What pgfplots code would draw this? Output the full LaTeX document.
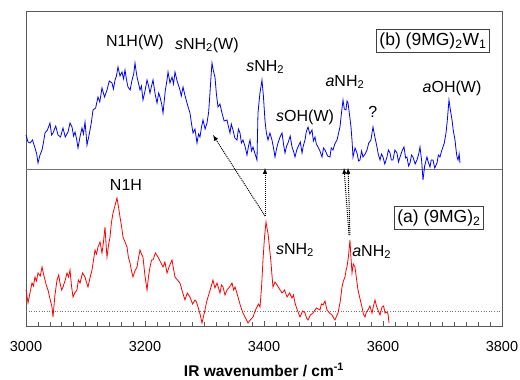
\documentclass[border=0pt]{standalone}
\usepackage{pgfplots}
\pgfplotsset{compat=1.18}
\usepackage{pgfplotstable}
\usepackage{fontspec}
\setmainfont{Liberation Sans}
\pgfplotstableread{
x y
3000.0 191
3003.4 184
3006.7 183
3011 186
3015.1 178
3018 172
3020.2 163
3023.5 171
3026.9 176
3029.5 184
3031.9 193
3036 196
3040.3 203
3043 191
3045.4 193
3050 200
3053.8 191
3058 189
3062.2 198
3066 189
3070.6 194
3074 203
3077.3 199
3080 190
3082.4 194
3085 187
3087.4 178
3091 190
3094.1 198
3096.5 192
3099.2 204
3101 192
3102.5 181
3105 188
3107.6 196
3110 204
3112.6 216
3117 218
3121.0 229
3124 224
3127.7 238
3132 229
3136.1 236
3140 245
3144.5 243
3147 237
3149.6 246
3152 250
3154.6 259
3158 250
3161.3 254
3164 247
3166.4 256
3169 246
3171.4 239
3175 236
3178.2 246
3181 252
3183.2 263
3185 255
3186.6 249
3189 243
3191.6 236
3194 240
3196.6 226
3200 235
3203.4 246
3206 240
3208.4 233
3211 240
3213.5 246
3217 232
3220.2 223
3223 233
3225.2 229
3228 222
3230.3 213
3234 235
3237.0 246
3238.7 254
3242 243
3245.4 249
3248 242
3250.4 254
3254 245
3258.8 236
3261 230
3263.9 239
3267 231
3270.6 223
3273 218
3275.6 213
3278 203
3280.7 193
3284 197
3287.4 183
3290 192
3292.4 189
3295 199
3297.5 206
3301 197
3304.2 203
3307 214
3309.2 233
3311 250
3312.6 263
3315 255
3317.6 249
3320 232
3322.7 219
3326 222
3329.4 213
3333 205
3337.8 206
3340 200
3342.9 193
3345 202
3347.9 196
3351 188
3354.6 186
3357 197
3359.7 193
3362 183
3364.7 186
3368 180
3371.4 171
3374 180
3376.5 186
3379 175
3381.5 179
3385 172
3388.2 166
3389.9 213
3393 232
3396.6 246
3399 230
3401.7 205
3404 193
3406.7 186
3410 193
3413.4 186
3416 178
3418.5 169
3421 177
3423.5 183
3427 189
3430.3 193
3433 181
3435.3 173
3438 180
3440.3 183
3444 190
3447.1 179
3450 174
3452.1 169
3455 176
3457.1 179
3461 184
3463.9 173
3466 180
3468.9 186
3471 194
3474.0 199
3477 192
3480.7 196
3483 185
3485.7 189
3488 182
3490.8 179
3494 175
3497.5 169
3500 178
3502.5 176
3507 170
3510.9 169
3513 178
3516.0 176
3519 182
3522.7 186
3525 192
3527.7 199
3530 212
3532.8 226
3535 217
3537.8 216
3539.5 225
3541.2 223
3544 210
3546.2 199
3548 185
3549.6 169
3553 178
3556.3 173
3559 165
3561.3 166
3564 175
3566.4 169
3570 172
3573.1 176
3576 183
3579.8 186
3581.5 193
3583.2 199
3586 190
3589.9 179
3592 172
3595.0 166
3597.5 172
3600.0 169
3603 162
3606.7 169
3609 176
3611.8 173
3614 166
3616.8 166
3620 176
3623.5 173
3626 164
3628.6 169
3632 175
3635.3 179
3638 168
3640.3 169
3643 160
3645.4 163
3648 171
3650.4 169
3654 162
3657.1 166
3660 172
3662.2 179
3665 165
3667.2 146
3670 160
3673.9 169
3676 164
3679.0 159
3681 166
3684.0 166
3687 158
3690.8 163
3693 171
3695.8 169
3698 174
3700.8 179
3703 183
3705.9 193
3708 205
3710.9 226
3713 217
3716.0 206
3718 196
3721.0 186
3723 175
3724.4 169
3726.1 166
3728 172
3729.4 163
}\bluedata
\pgfplotstableread{
x y
3000.0 36
3001.7 30
3003.4 23
3007 34
3010.1 43
3012.5 40
3015.1 49
3017.5 45
3020.2 53
3024 50
3026.9 59
3029.5 52
3031.9 46
3034.5 40
3037.0 36
3040 28
3043.7 19
3045.4 9
3048.5 30
3052.1 46
3055 51
3057.1 43
3060 36
3062.2 39
3066 46
3068.9 53
3071.5 49
3074.0 56
3076.5 40
3079.0 29
3082 33
3085.7 36
3088 46
3090.8 43
3095 53
3099.2 49
3101.5 44
3104.2 39
3107.5 48
3110.9 56
3113.5 66
3116.0 76
3118.5 72
3121.0 79
3124.5 84
3127.7 73
3130 83
3132.8 99
3134.5 82
3136.1 69
3138.5 80
3141.2 89
3143.5 103
3146.2 113
3149.5 120
3152.9 128
3155.5 119
3158.0 109
3160.5 100
3163.0 89
3166.5 84
3169.8 79
3172 69
3174.8 63
3177 56
3179.8 49
3183 55
3186.6 59
3189 68
3191.6 76
3194 72
3196.6 69
3200 50
3203.4 36
3206 50
3208.4 59
3211 66
3213.5 66
3217.5 73
3221.9 69
3226 64
3230.3 59
3233.5 64
3237.0 53
3241 60
3245.4 66
3248 57
3250.4 49
3254.5 46
3258.8 43
3263 34
3267.2 26
3271 33
3275.6 29
3280 22
3284.0 26
3286.5 24
3289.1 19
3292.5 12
3295.8 3
3298.5 10
3300.8 16
3303.5 24
3305.9 29
3310 37
3314.3 46
3317.5 38
3321.0 43
3323.5 38
3326.1 33
3328.5 41
3331.1 39
3334.5 31
3337.8 36
3342 39
3346.2 43
3349 36
3351.3 39
3354 34
3356.3 29
3360.5 20
3364.7 13
3369 8
3373.1 3
3377 6
3381.5 9
3385 15
3388.2 19
3391 22
3393.3 19
3396 40
3398.3 66
3401 90
3403.4 104
3405 98
3406.7 93
3409 80
3411.8 63
3413.5 50
3415.1 39
3418.5 44
3421.9 41
3426 37
3430.3 33
3434.5 36
3438.7 29
3443 33
3447.1 28
3449.5 31
3452.1 23
3456 16
3460.5 9
3465 15
3468.9 13
3471.5 8
3474.0 6
3478 11
3482.4 13
3488 18
3494.1 16
3496.5 22
3499.2 21
3502.5 25
3505.9 16
3510 13
3514.3 11
3517 8
3519.3 6
3522 10
3524.4 13
3528 24
3531.1 39
3533.5 45
3536.1 49
3538 56
3539.5 59
3542 70
3544.5 86
3546 70
3547.9 53
3550 62
3552.9 59
3555.5 47
3558.0 36
3561 28
3564.7 19
3567 12
3569.8 9
3572 14
3574.8 16
3578 20
3581.5 13
3584 20
3586.6 26
3589 20
3591.6 16
3595 11
3598.3 19
3601 20
3603.4 13
3606.7 14
3608.5 12
3610.1 3
}\reddata
\begin{document}
\fontsize{16}{18}\selectfont
\begin{tikzpicture}
\begin{axis}[
  scale only axis,
  width=476pt, height=315pt,
  xmin=3000, xmax=3800, ymin=0, ymax=315,
  axis line style={draw=black!65, line width=0.8pt},
  xtick={3000,3200,...,3800},
  minor x tick num=9,
  ytick=\empty,
  xtick pos=bottom,
  tick align=inside,
  major tick length=5pt, minor tick length=4pt,
  tick style={black!65, line width=0.6pt},
  /pgf/number format/assume math mode=true,
  /pgf/number format/set thousands separator={},
  ticklabel style={font=\fontsize{14.5}{16}\selectfont},
  xticklabel style={yshift=-10pt},
  xlabel={\textbf{IR wavenumber / cm\raisebox{1.5pt}{\textsuperscript{-1}}}},
  xlabel style={font=\fontsize{15.5}{17}\selectfont, yshift=0pt},
  clip=false,
]
\addplot[black!55, line width=0.6pt] coordinates {(3000,157) (3800,157)};
\addplot[black!55, dotted, line width=0.6pt] coordinates {(3000,15) (3800,15)};
\addplot[blue, line width=0.8pt] table[x=x,y=y] {\bluedata};
\addplot[red, line width=0.8pt] table[x=x,y=y] {\reddata};
% arrows
\draw[densely dotted, line width=1pt, -latex] (axis cs:3401.7,110) -- (axis cs:3314.3,191);
\draw[densely dotted, line width=1pt, -latex] (axis cs:3401.7,110) -- (axis cs:3401.7,158);
\draw[densely dotted, line width=1pt, -latex] (axis cs:3542.9,91) -- (axis cs:3534.5,158);
\draw[densely dotted, line width=1pt, -latex] (axis cs:3544.5,91) -- (axis cs:3541.2,158);
% labels
\node at (axis cs:3183,284) {N1H(W)};
\node at (axis cs:3304,281) {\textit{s}NH\textsubscript{2}(W)};
\node at (axis cs:3402,259) {\textit{s}NH\textsubscript{2}};
\node at (axis cs:3469,209) {\textit{s}OH(W)};
\node at (axis cs:3536,244) {\textit{a}NH\textsubscript{2}};
\node at (axis cs:3583,214) {?};
\node at (axis cs:3716,238) {\textit{a}OH(W)};
\node[draw=black!75, line width=0.8pt, inner sep=3pt, font=\fontsize{17.5}{19}\selectfont] at (axis cs:3684,285) {(b) (9MG)\textsubscript{2}W\textsubscript{1}};
\node at (axis cs:3168,141) {N1H};
\node at (axis cs:3452,76) {\textit{s}NH\textsubscript{2}};
\node at (axis cs:3581,74) {\textit{a}NH\textsubscript{2}};
\node[draw=black!75, line width=0.8pt, inner sep=3pt, font=\fontsize{17.5}{19}\selectfont] at (axis cs:3694,108) {(a) (9MG)\textsubscript{2}};
\end{axis}
\pgfresetboundingbox
\path ([shift={(-26pt,-53pt)}]current axis.south west) rectangle ([shift={(18pt,11pt)}]current axis.north east);
\end{tikzpicture}
\end{document}
